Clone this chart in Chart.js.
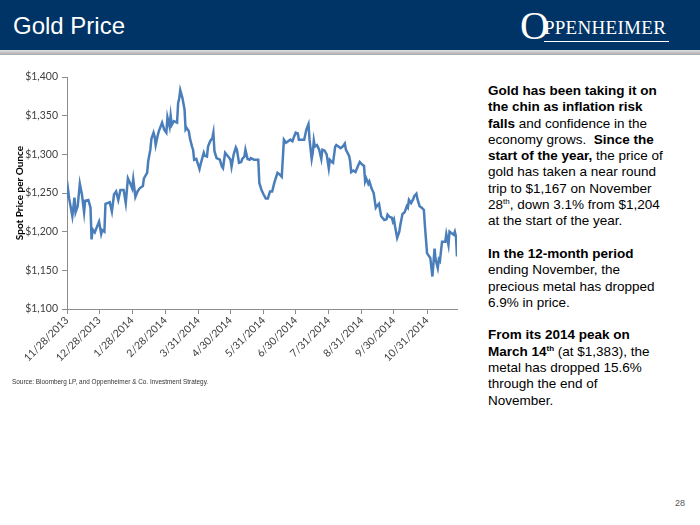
<!DOCTYPE html>
<html>
<head>
<meta charset="utf-8">
<title>Gold Price</title>
<script src="https://cdn.jsdelivr.net/npm/chart.js@4.4.0/dist/chart.umd.min.js"></script>
<style>
  body { margin: 0; width: 700px; height: 525px; background: #fff; position: relative; overflow: hidden;
         font-family: "Liberation Sans", Arial, sans-serif; }
  #header { position: absolute; left: 0; top: 0; width: 700px; height: 50px; background: #003366; }
  #strip { position: absolute; left: 0; top: 50px; width: 700px; height: 5px; background: linear-gradient(#e0e0e0, #a8a8a8); }
  #title { position: absolute; left: 13px; top: 12px; color: #fff; font-size: 24px; }
  #logo { position: absolute; left: 520px; top: 6px; color: #fff; font-family: "Liberation Serif", serif; white-space: nowrap; }
  #logo .ring { font-size: 40px; font-weight: 100; vertical-align: top; line-height: 40px; }
  #logo .rest { display: inline-block; font-size: 19px; margin-left: -5px; margin-top: 11px; vertical-align: top;
                padding-bottom: 2px; padding-right: 3px; border-bottom: 1px solid #fff; letter-spacing: 0.3px; }
  #chartBox { position: absolute; left: 0; top: 60px; width: 470px; height: 320px; }
  #source { position: absolute; left: 12px; top: 377px; font-size: 8px; color: #333; white-space: nowrap;
            transform: scaleX(0.8); transform-origin: left top; }
  #commentary { position: absolute; left: 488px; top: 83px; font-size: 13.5px; line-height: 16.3px; color: #000; white-space: nowrap; }
  #commentary p { margin: 0 0 16.3px 0; }
  #pageNum { position: absolute; left: 675px; top: 498px; font-size: 9px; color: #555; }
</style>
</head>
<body>
<div id="header"></div>
<div id="strip"></div>
<div id="title">Gold Price</div>
<div id="logo"><span class="ring">O</span><span class="rest">PPENHEIMER</span></div>

<div id="chartBox"><canvas id="goldChart"></canvas></div>
<div id="source">Source: Bloomberg LP, and Oppenheimer &amp; Co. Investment Strategy.</div>

<div id="commentary">
  <p><b>Gold has been taking it on<br>the chin as inflation risk<br>falls</b> and confidence in the<br>economy grows.&nbsp; <b>Since the<br>start of the year,</b> the price of<br>gold has taken a near round<br>trip to $1,167 on November<br>28<sup style="font-size:8px;line-height:0">th</sup>, down 3.1% from $1,204<br>at the start of the year.</p>
  <p><b>In the 12-month period</b><br>ending November, the<br>precious metal has dropped<br>6.9% in price.</p>
  <p><b>From its 2014 peak on<br>March 14<sup style="font-size:8px;line-height:0">th</sup></b> (at $1,383), the<br>metal has dropped 15.6%<br>through the end of<br>November.</p>
</div>
<div id="pageNum">28</div>

<script>
// tanggal awal seri (11/28/2013) dan label sumbu X
const startDate = Date.UTC(2013, 10, 28);
const tickDates = ['11/28/2013', '12/28/2013', '1/28/2014', '2/28/2014', '3/31/2014', '4/30/2014',
                   '5/31/2014', '6/30/2014', '7/31/2014', '8/31/2014', '9/30/2014', '10/31/2014'];
const lastDay = 365; // 11/28/2014

// hari sejak 11/28/2013
const days = [
  0, 1, 2, 5, 7, 8, 10, 12, 14, 16, 17, 20, 22, 23, 24, 26, 30, 32, 33, 35,
  36, 40, 42, 44, 46, 48, 50, 53, 55, 57, 59, 61, 62, 64, 66, 68, 71, 72, 75, 76,
  78, 79, 81, 82, 83, 85, 86, 89, 91, 93, 94, 96, 97, 98, 100, 103, 104, 105, 106, 108,
  110, 111, 112, 114, 115, 117, 118, 119, 121, 124, 125, 128, 129, 131, 132, 134, 136, 137, 138, 140,
  143, 145, 146, 148, 151, 153, 154, 156, 158, 159, 161, 163, 164, 166, 167, 169, 171, 172, 175, 179,
  180, 182, 184, 186, 188, 190, 192, 194, 197, 199, 201, 203, 205, 207, 209, 211, 212, 214, 216, 217,
  219, 222, 224, 226, 227, 229, 230, 231, 232, 234, 236, 238, 239, 241, 243, 245, 246, 248, 249, 251,
  252, 254, 256, 258, 260, 261, 264, 265, 266, 268, 270, 272, 274, 276, 278, 279, 280, 282, 283, 285,
  287, 289, 290, 292, 294, 297, 299, 300, 302, 304, 305, 306, 307, 309, 311, 312, 314, 316, 318, 319,
  320, 322, 324, 325, 327, 328, 330, 332, 334, 335, 337, 338, 340, 342, 343, 344, 345, 347, 348, 349,
  351, 353, 354, 355, 357, 358, 360, 362, 363, 364, 365
];

// harga spot emas (USD per ons)
const prices = [
  1244, 1254, 1243, 1220, 1244, 1225, 1233, 1262, 1248, 1225, 1240, 1241, 1231, 1190, 1203, 1199, 1213, 1197, 1202, 1200,
  1236, 1238, 1226, 1248, 1252, 1241, 1254, 1254, 1237, 1269, 1263, 1256, 1268, 1245, 1252, 1256, 1259, 1269, 1276, 1291,
  1306, 1320, 1328, 1323, 1312, 1325, 1330, 1341, 1332, 1328, 1348, 1336, 1350, 1338, 1343, 1341, 1366, 1372, 1383, 1373,
  1358, 1332, 1334, 1330, 1321, 1310, 1306, 1293, 1294, 1281, 1287, 1302, 1298, 1297, 1310, 1317, 1321, 1328, 1304, 1295,
  1293, 1284, 1282, 1302, 1297, 1293, 1284, 1300, 1309, 1306, 1289, 1290, 1294, 1297, 1306, 1294, 1293, 1295, 1293, 1293,
  1263, 1254, 1248, 1243, 1243, 1252, 1252, 1263, 1276, 1274, 1271, 1319, 1315, 1317, 1319, 1317, 1321, 1328, 1327, 1319,
  1319, 1319, 1332, 1339, 1319, 1294, 1302, 1318, 1310, 1312, 1306, 1294, 1306, 1305, 1300, 1282, 1293, 1290, 1289, 1310,
  1312, 1310, 1308, 1310, 1314, 1306, 1298, 1291, 1277, 1279, 1277, 1284, 1290, 1287, 1285, 1265, 1269, 1262, 1265, 1256,
  1250, 1231, 1233, 1236, 1220, 1215, 1216, 1222, 1219, 1218, 1213, 1216, 1207, 1192, 1200, 1209, 1223, 1225, 1233, 1231,
  1241, 1237, 1242, 1246, 1249, 1242, 1233, 1231, 1228, 1207, 1172, 1170, 1166, 1142, 1160, 1178, 1164, 1153, 1164, 1162,
  1187, 1187, 1187, 1197, 1183, 1200, 1198, 1196, 1200, 1194, 1168
];

const yMin = 1100, yMax = 1400, yStep = 50;

function hariKe(label) {
    const [m, d, y] = label.split('/').map(Number);
    return Math.round((Date.UTC(y, m - 1, d) - startDate) / 86400000);
}
const tickDays = tickDates.map(hariKe);

const axisColor = '#8c8c8c';
const labelFont = { family: 'Lato, "Open Sans", sans-serif', size: 10.5 };

new Chart(document.getElementById('goldChart'), {
    type: 'line',
    data: {
        datasets: [{
            label: 'Gold',
            data: days.map((d, i) => ({ x: d, y: prices[i] })),
            borderColor: '#4a7ebb',
            borderWidth: 2.5,
            pointRadius: 0,
            tension: 0,
            fill: false
        }]
    },
    options: {
        responsive: true,
        maintainAspectRatio: false,
        animation: false,
        layout: { padding: { top: 17, right: 13, left: 14, bottom: 0 } },
        plugins: { legend: { display: false }, tooltip: { enabled: false } },
        scales: {
            x: {
                type: 'linear',
                min: 0,
                max: lastDay,
                afterBuildTicks: (scale) => { scale.ticks = tickDays.map(v => ({ value: v })); },
                afterFit: (scale) => { scale.height = 71; },
                ticks: {
                    autoSkip: false,
                    minRotation: 45,
                    maxRotation: 45,
                    color: '#404040',
                    font: labelFont,
                    padding: 0,
                    callback: (value) => tickDates[tickDays.indexOf(value)]
                },
                grid: { drawOnChartArea: false, drawTicks: true, tickLength: 5, color: axisColor },
                border: { display: true, color: axisColor }
            },
            y: {
                min: yMin,
                max: yMax,
                afterFit: (scale) => { scale.width = 53; },
                ticks: {
                    stepSize: yStep,
                    color: '#404040',
                    font: labelFont,
                    padding: 4,
                    callback: (value) => '$' + value.toLocaleString('en-US')
                },
                title: {
                    display: true,
                    text: 'Spot Price per Ounce',
                    color: '#000',
                    font: { family: 'Lato, "Open Sans", sans-serif', size: 10, weight: 'bold' },
                    padding: { top: 0, bottom: 0 }
                },
                grid: { drawOnChartArea: false, drawTicks: true, tickLength: 5, color: axisColor },
                border: { display: true, color: axisColor }
            }
        }
    }
});
</script>
</body>
</html>
